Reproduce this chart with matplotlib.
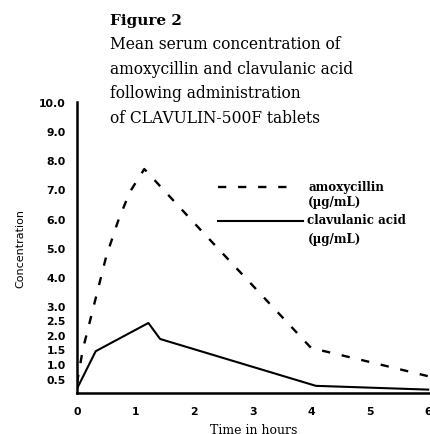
import matplotlib.pyplot as plt

# data
hours_amox = [0, 0.1, 0.2, 0.35, 0.5, 0.7, 0.9, 1.15, 2.0, 3.0, 4.0, 5.0, 6.0]
amoxycillin = [0.35, 1.5, 2.3, 3.5, 4.7, 5.9, 6.9, 7.7, 5.85, 3.7, 1.55, 1.07, 0.58]

hours_clav = [0, 0.32, 1.22, 1.42, 4.08, 6.0]
clavulanic = [0.15, 1.44, 2.41, 1.86, 0.25, 0.12]

y_ticks = [0.5, 1.0, 1.5, 2.0, 2.5, 3.0, 4.0, 5.0, 6.0, 7.0, 8.0, 9.0, 10.0]
x_ticks = [0, 1, 2, 3, 4, 5, 6]

title_lines = ["Mean serum concentration of",
               "amoxycillin and clavulanic acid",
               "following administration",
               "of CLAVULIN-500F tablets"]

fig = plt.figure(figsize=(4.3, 4.35), dpi=100)
ax = fig.add_axes([0.179, 0.094, 0.821, 0.669])

ax.plot(hours_amox, amoxycillin, color="black", lw=1.7, linestyle=(0, (3.5, 5)))
ax.plot(hours_clav, clavulanic, color="black", lw=1.5)

ax.set_xlim(0, 6.03)
ax.set_ylim(0, 10)
ax.set_xticks(x_ticks)
ax.set_yticks(y_ticks)
ax.set_yticklabels([f"{v:.1f}" for v in y_ticks], fontsize=7.8, fontweight="bold")
ax.set_xticklabels([str(v) for v in x_ticks], fontsize=7.8, fontweight="bold")
ax.tick_params(length=0, pad=8)
ax.tick_params(axis="x", pad=9)
for s in ["top", "right"]:
    ax.spines[s].set_visible(False)
ax.spines["left"].set_linewidth(1.8)
ax.spines["bottom"].set_linewidth(1.8)

ax.set_ylabel("Concentration", fontsize=8, labelpad=10)
ax.set_xlabel("Time in hours", fontsize=9, family="DejaVu Serif", labelpad=5)

# title block
fig.text(0.256, 0.952, "Figure 2", fontsize=11, family="DejaVu Serif", fontweight="bold", va="center")
for i, line in enumerate(title_lines):
    fig.text(0.256, 0.898 - i * 0.057, line, fontsize=11.2, family="DejaVu Serif", va="center")

# legend keys drawn by hand
ax.plot([0.40, 0.60], [0.708, 0.708], transform=ax.transAxes, color="black", lw=1.7,
        linestyle=(0, (3.5, 5)), clip_on=False)
ax.plot([0.40, 0.64], [0.591, 0.591], transform=ax.transAxes, color="black", lw=1.5, clip_on=False)
leg_font = dict(transform=ax.transAxes, fontsize=8.6, family="DejaVu Serif", fontweight="bold", va="center")
ax.text(0.655, 0.711, "amoxycillin", **leg_font)
ax.text(0.655, 0.657, "(\u00b5g/mL)", **leg_font)
ax.text(0.652, 0.597, "clavulanic acid", **leg_font)
ax.text(0.655, 0.530, "(\u00b5g/mL)", **leg_font)

fig.savefig("out.png", dpi=100)
